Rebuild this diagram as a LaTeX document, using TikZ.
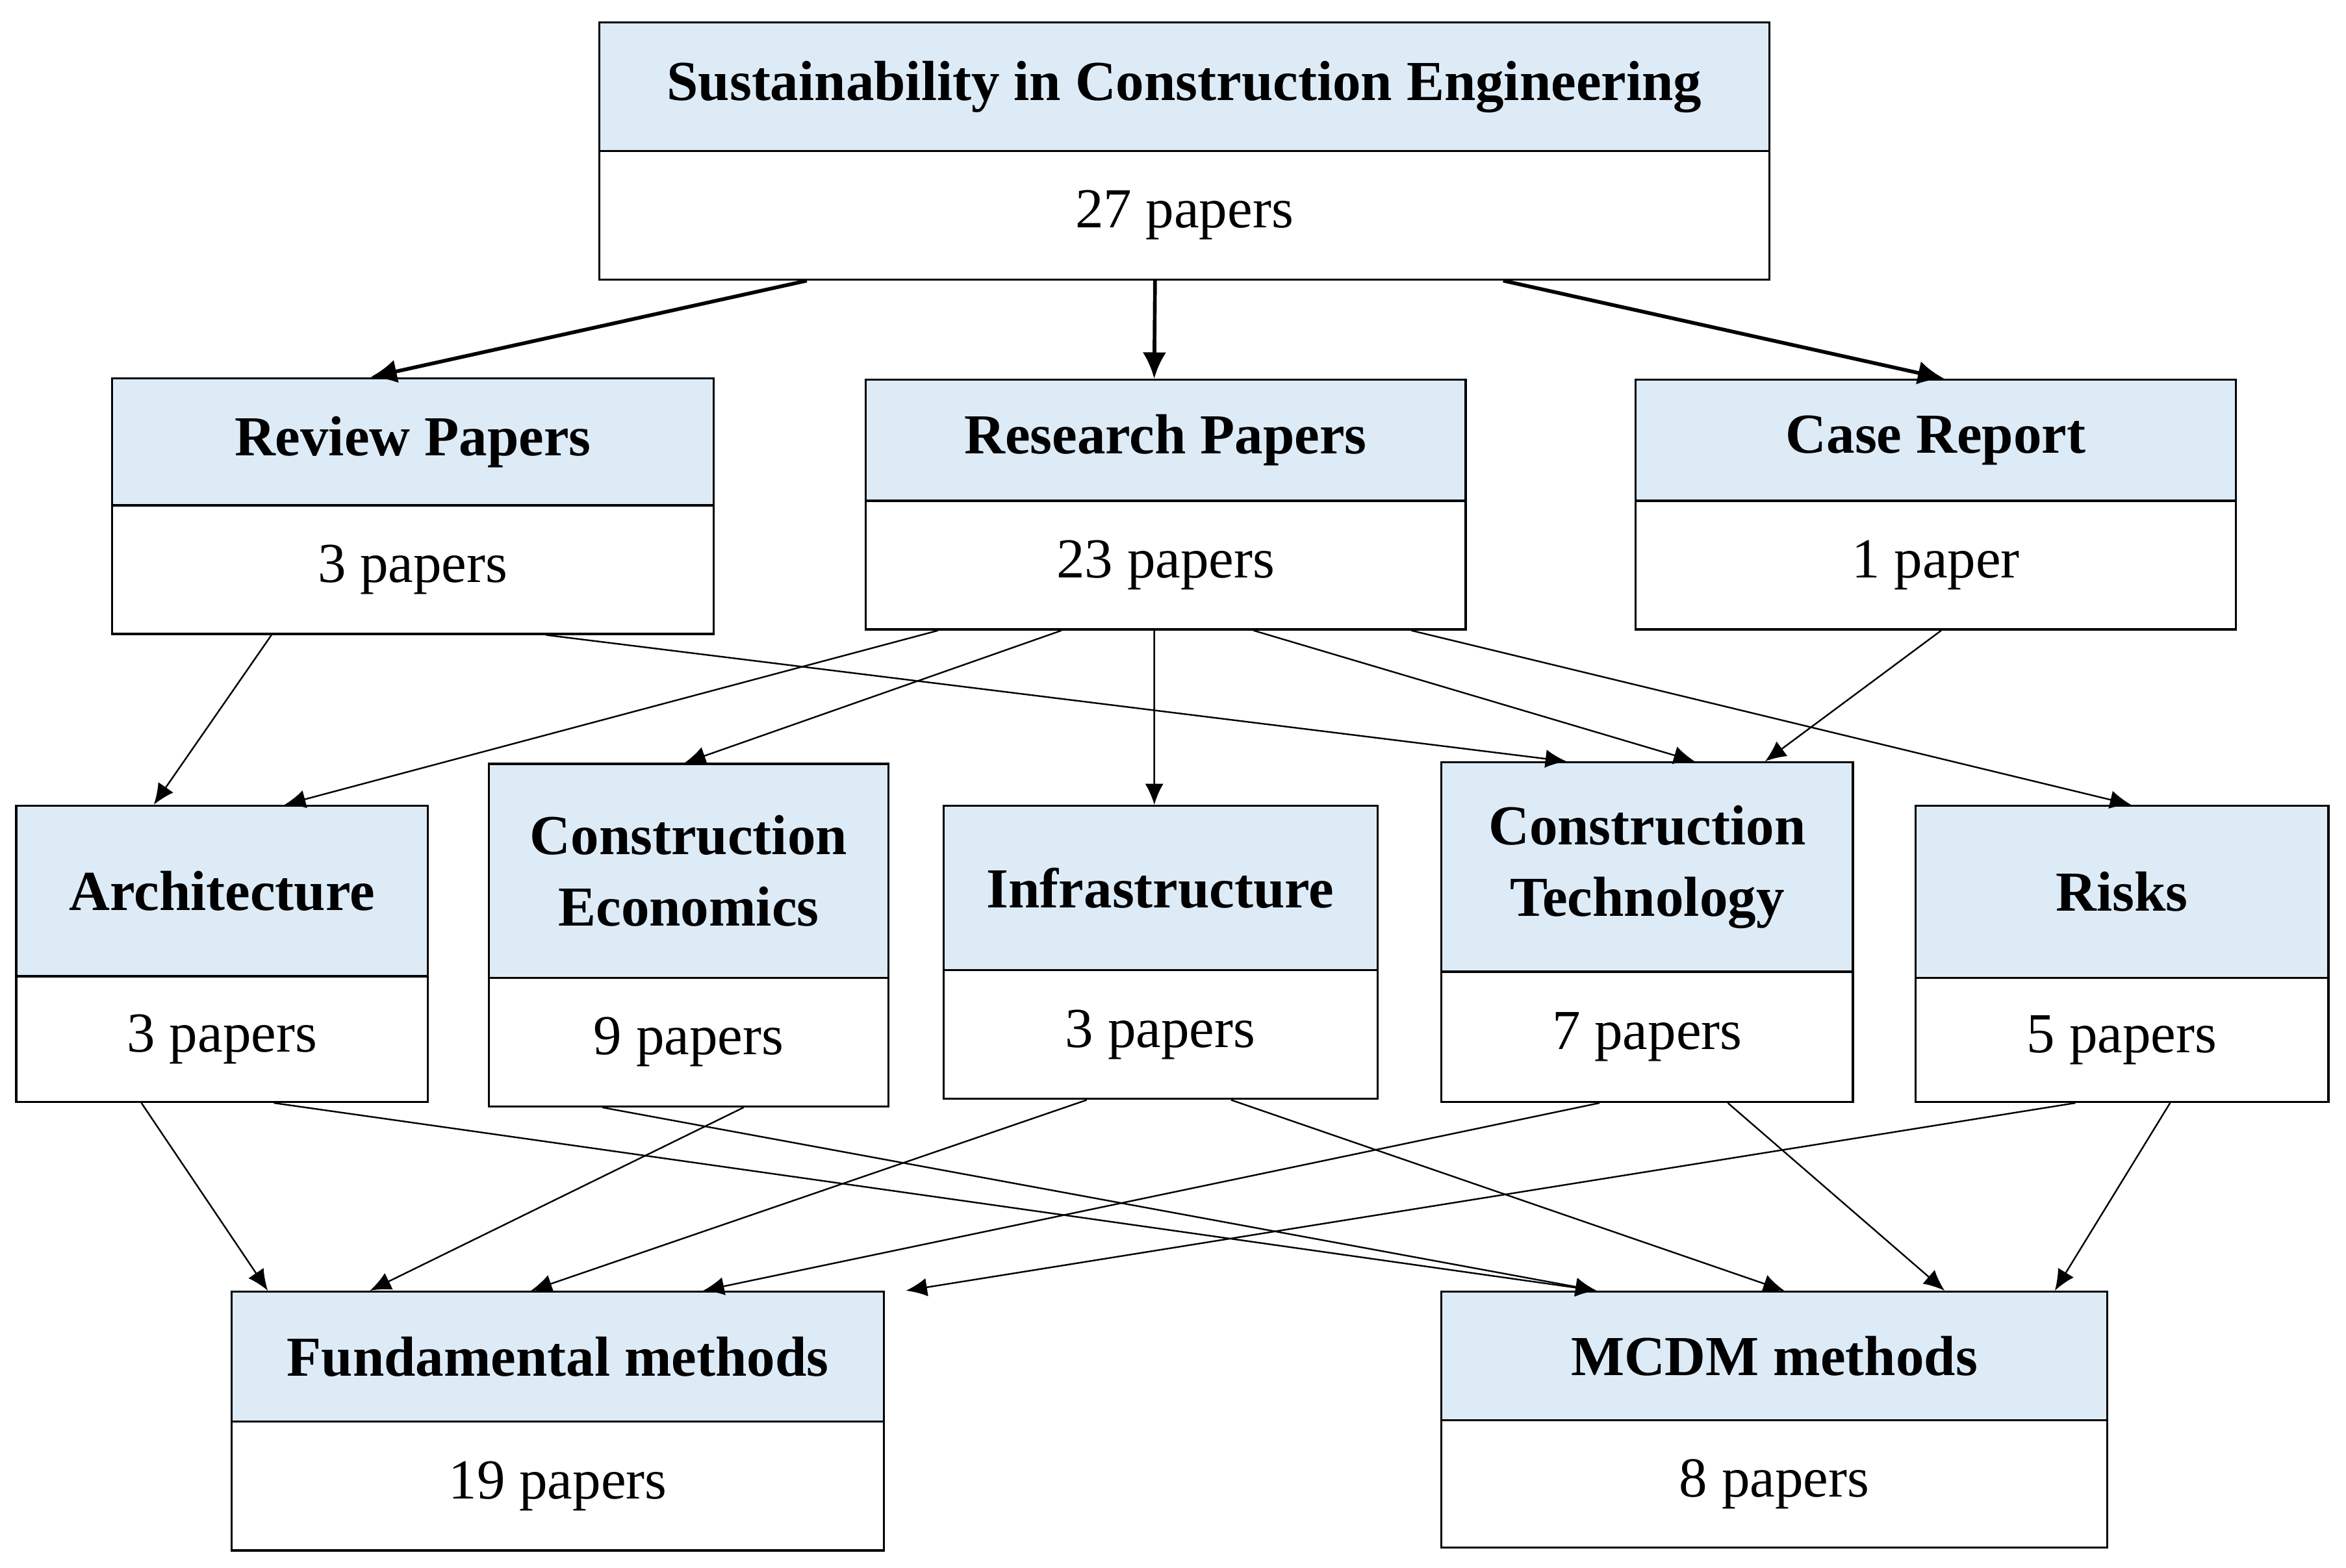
\documentclass[tikz,border=0pt]{standalone}
\usepackage{fontspec}
\setmainfont{Liberation Serif}
\usetikzlibrary{calc,arrows.meta}

\definecolor{headblue}{HTML}{DDEBF7}

\tikzset{
  head/.style={draw=black, thick, fill=headblue, inner sep=0pt, align=center, font=\fontsize{21.5}{27}\selectfont\bfseries},
  body/.style={draw=black, thick, fill=white, inner sep=0pt, font=\fontsize{21.5}{27}\selectfont},
  link/.style={-{Latex[length=8pt,width=7pt]}, semithick},
  mainlink/.style={-{Latex[length=10pt,width=9pt]}, line width=1.4pt}
}

% #1 name, #2 x left, #3 x right, #4 y top, #5 y split, #6 y bottom (pixels)
\newcommand{\catbox}[8]{
  \node[head, minimum width={(#3-#2)*0.02cm}, minimum height={(#5-#4)*0.02cm}]
    (#1-h) at ({(#2+#3)*0.01}, {-(#4+#5)*0.01}) {#7};
  \node[body, minimum width={(#3-#2)*0.02cm}, minimum height={(#6-#5)*0.02cm}]
    (#1-b) at ({(#2+#3)*0.01}, {-(#5+#6)*0.01}) {#8};
}

\begin{document}
\begin{tikzpicture}
	\useasboundingbox (0,0) rectangle (31.36,-20.96);
	
	%boxes
	\catbox{top}{401}{1183}{15}{101}{187}{Sustainability in Construction Engineering}{27 papers}
	\catbox{rev}{75}{477}{253}{338}{424}{Review Papers}{3 papers}
	\catbox{res}{579}{980}{254}{335}{421}{Research Papers}{23 papers}
	\catbox{case}{1094}{1495}{254}{335}{421}{Case Report}{1 paper}
	\catbox{arch}{11}{286}{539}{653}{737}{Architecture}{3 papers}
	\catbox{econ}{327}{594}{511}{654}{740}{Construction\\Economics}{9 papers}
	\catbox{infra}{631}{921}{539}{649}{735}{Infrastructure}{3 papers}
	\catbox{tech}{964}{1239}{510}{650}{737}{Construction\\Technology}{7 papers}
	\catbox{risk}{1281}{1557}{539}{654}{737}{Risks}{5 papers}
	\catbox{fund}{155}{591}{864}{951}{1037}{Fundamental methods}{19 papers}
	\catbox{mcdm}{964}{1409}{864}{950}{1035}{MCDM methods}{8 papers}
	
	%level one
	\draw[mainlink] ($(top-b.south west)!0.178!(top-b.south east)$) -- ($(rev-h.north west)!0.43!(rev-h.north east)$);
	\draw[mainlink] ($(top-b.south west)!0.475!(top-b.south east)$) -- ($(res-h.north west)!0.481!(res-h.north east)$);
	\draw[mainlink] ($(top-b.south west)!0.772!(top-b.south east)$) -- ($(case-h.north west)!0.514!(case-h.north east)$);
	
	%level two
	\draw[link] ($(rev-b.south west)!0.266!(rev-b.south east)$) -- ($(arch-h.north west)!0.335!(arch-h.north east)$);
	\draw[link] ($(rev-b.south west)!0.721!(rev-b.south east)$) -- ($(tech-h.north west)!0.305!(tech-h.north east)$);
	\draw[link] ($(res-b.south west)!0.122!(res-b.south east)$) -- ($(arch-h.north west)!0.651!(arch-h.north east)$);
	\draw[link] ($(res-b.south west)!0.327!(res-b.south east)$) -- ($(econ-h.north west)!0.49!(econ-h.north east)$);
	\draw[link] ($(res-b.south west)!0.481!(res-b.south east)$) -- ($(infra-h.north west)!0.486!(infra-h.north east)$);
	\draw[link] ($(res-b.south west)!0.646!(res-b.south east)$) -- ($(tech-h.north west)!0.615!(tech-h.north east)$);
	\draw[link] ($(res-b.south west)!0.908!(res-b.south east)$) -- ($(risk-h.north west)!0.522!(risk-h.north east)$);
	\draw[link] ($(case-b.south west)!0.509!(case-b.south east)$) -- ($(tech-h.north west)!0.785!(tech-h.north east)$);
	
	%level three
	\draw[link] ($(arch-b.south west)!0.305!(arch-b.south east)$) -- ($(fund-h.north west)!0.057!(fund-h.north east)$);
	\draw[link] ($(arch-b.south west)!0.625!(arch-b.south east)$) -- ($(mcdm-h.north west)!0.234!(mcdm-h.north east)$);
	\draw[link] ($(econ-b.south west)!0.637!(econ-b.south east)$) -- ($(fund-h.north west)!0.213!(fund-h.north east)$);
	\draw[link] ($(econ-b.south west)!0.285!(econ-b.south east)$) -- ($(mcdm-h.north west)!0.234!(mcdm-h.north east)$);
	\draw[link] ($(infra-b.south west)!0.331!(infra-b.south east)$) -- ($(fund-h.north west)!0.459!(fund-h.north east)$);
	\draw[link] ($(infra-b.south west)!0.662!(infra-b.south east)$) -- ($(mcdm-h.north west)!0.515!(mcdm-h.north east)$);
	\draw[link] ($(tech-b.south west)!0.385!(tech-b.south east)$) -- ($(fund-h.north west)!0.722!(fund-h.north east)$);
	\draw[link] ($(tech-b.south west)!0.695!(tech-b.south east)$) -- ($(mcdm-h.north west)!0.755!(mcdm-h.north east)$);
	\draw[link] ($(risk-b.south west)!0.388!(risk-b.south east)$) -- ($(fund-h.north west)!1.032!(fund-h.north east)$);
	\draw[link] ($(risk-b.south west)!0.616!(risk-b.south east)$) -- ($(mcdm-h.north west)!0.92!(mcdm-h.north east)$);
\end{tikzpicture}
\end{document}
